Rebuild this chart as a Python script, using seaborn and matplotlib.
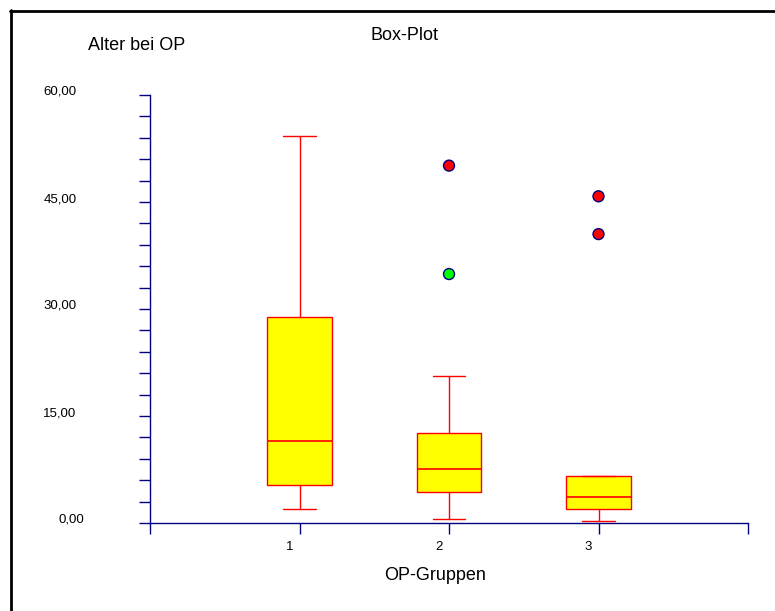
import numpy as np
import pandas as pd
import matplotlib
matplotlib.use("Agg")
import matplotlib.pyplot as plt
import matplotlib.transforms as mtransforms
from matplotlib.lines import Line2D
from matplotlib.ticker import FixedLocator, FuncFormatter
import seaborn as sns

# ---- data ----
groups = [1, 2, 3]
group_labels = ["1", "2", "3"]
whisker_low = [2.0, 0.55, 0.3]
q1 = [5.3, 4.3, 1.9]
median = [11.5, 7.6, 3.65]
q3 = [28.9, 12.55, 6.55]
whisker_high = [54.3, 20.55, 6.55]

outlier_group = [2, 2, 3, 3]
outlier_value = [50.1, 34.9, 45.8, 40.5]
outlier_type = ["Extremwert", "Ausreißer", "Extremwert", "Extremwert"]

y_major = [0, 15, 30, 45, 60]
x_ticks = [0, 1, 2, 3, 4]

# ---- style ----
sns.set_style("white")
plt.rcParams["font.family"] = ["Liberation Sans", "DejaVu Sans"]
plt.rcParams["text.color"] = "black"
plt.rcParams["axes.labelcolor"] = "black"

W, H, DPI = 775, 611, 100
fig = plt.figure(figsize=(W / DPI, H / DPI), dpi=DPI)
ax = fig.add_axes([150 / W, 1 - 523 / H, (748 - 150) / W, (523 - 95) / H])

navy = "#000080"
red = "#FF0000"
yellow = "#FFFF00"

stats = []
for i in range(len(groups)):
    stats.append(dict(label=group_labels[i], whislo=whisker_low[i], q1=q1[i],
                      med=median[i], q3=q3[i], whishi=whisker_high[i], fliers=[]))

ax.bxp(stats, positions=groups, widths=0.43, patch_artist=True, showfliers=False,
       boxprops=dict(facecolor=yellow, edgecolor=red, linewidth=1.0),
       medianprops=dict(color=red, linewidth=1.2),
       whiskerprops=dict(color=red, linewidth=1.0),
       capprops=dict(color=red, linewidth=1.0),
       capwidths=0.22, manage_ticks=False)

df_out = pd.DataFrame({"group": outlier_group, "value": outlier_value, "type": outlier_type})
sns.scatterplot(data=df_out, x="group", y="value", hue="type",
                palette={"Extremwert": "#FF0000", "Ausreißer": "#00FF00"},
                s=62, edgecolor=navy, linewidth=1.0, legend=False, ax=ax, zorder=5)

ax.set_xlim(0, 4)
ax.set_ylim(0, 60)

# spines
for side in ["top", "right"]:
    ax.spines[side].set_visible(False)
for side in ["left", "bottom"]:
    ax.spines[side].set_color(navy)
    ax.spines[side].set_linewidth(1.0)

ax.yaxis.set_major_locator(FixedLocator(y_major))
ax.yaxis.set_minor_locator(FixedLocator(list(np.arange(0, 61, 3))))
ax.yaxis.set_major_formatter(FuncFormatter(lambda v, p: f"{v:.2f}".replace(".", ",")))
ax.xaxis.set_major_locator(FixedLocator(x_ticks))
ax.set_xticklabels(["", "1", "2", "3", ""])

ax.tick_params(axis="y", which="both", direction="out", length=8, width=1.0,
               color=navy, left=True)
ax.tick_params(axis="y", which="major", pad=45, labelsize=9.5, labelcolor="black")
ax.tick_params(axis="x", which="major", direction="out", length=8, width=1.0,
               color=navy, bottom=True, pad=5, labelsize=9.5, labelcolor="black")

fig.canvas.draw()
for lab in ax.get_yticklabels():
    lab.set_verticalalignment("baseline")
    if lab.get_text() == "0,00":
        lab.set_transform(lab.get_transform() +
                          mtransforms.ScaledTranslation(8 / DPI, 0, fig.dpi_scale_trans))
for lab in ax.get_xticklabels():
    lab.set_transform(lab.get_transform() +
                      mtransforms.ScaledTranslation(-10 / DPI, 0, fig.dpi_scale_trans))

ax.set_xlabel("OP-Gruppen", fontsize=13, color="black", va="center")
ax.xaxis.set_label_coords((435 - 150) / 598, -(575 - 523) / 428)
ax.set_ylabel("")

fig.text(405 / W, 1 - 35 / H, "Box-Plot", fontsize=13, ha="center", va="center", color="black")
fig.text(88 / W, 1 - 45 / H, "Alter bei OP", fontsize=13, ha="left", va="center", color="black")

# outer frame (top and left edges visible)
fig.add_artist(Line2D([10 / W, 1.0], [1 - 11 / H, 1 - 11 / H], color="black",
                      linewidth=2.0, transform=fig.transFigure))
fig.add_artist(Line2D([11 / W, 11 / W], [0.0, 1 - 10 / H], color="black",
                      linewidth=2.0, transform=fig.transFigure))

fig.savefig("out.png", dpi=DPI)
